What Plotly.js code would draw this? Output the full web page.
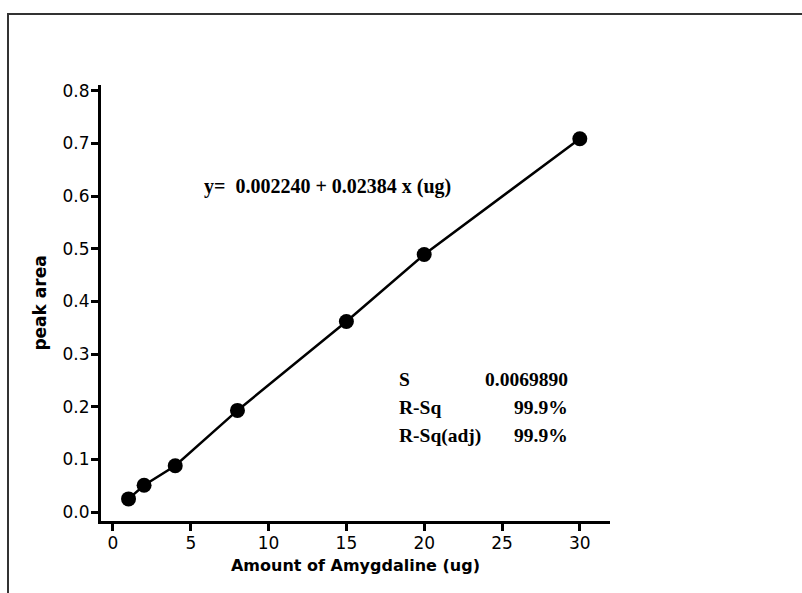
<!DOCTYPE html>
<html>
<head>
<meta charset="utf-8">
<script src="https://cdn.plot.ly/plotly-3.0.1.min.js"></script>
<style>
  html, body { margin: 0; padding: 0; background: #fff; }
  #wrap { position: relative; width: 802px; height: 593px; overflow: hidden; }
  #frame { position: absolute; left: 7px; top: 13px; width: 820px; height: 600px;
           border-left: 2px solid #333; border-top: 2px solid #333; pointer-events: none; }
  #chart { position: absolute; left: 0; top: 0; width: 802px; height: 593px; }
</style>
</head>
<body>
<div id="wrap">
  <div id="chart"></div>
  <div id="frame"></div>
</div>
<script>
// Data
const amount = [1, 2, 4, 8, 15, 20, 30];
const peakArea = [0.025, 0.051, 0.088, 0.193, 0.362, 0.489, 0.709];
const xTicks = [0, 5, 10, 15, 20, 25, 30];
const yTicks = [0.0, 0.1, 0.2, 0.3, 0.4, 0.5, 0.6, 0.7, 0.8];
const yTickLabels = ["0.0", "0.1", "0.2", "0.3", "0.4", "0.5", "0.6", "0.7", "0.8"];
const equationText = "y=\u00a0\u00a00.002240 + 0.02384 x (ug)";
const statNames = ["S", "R-Sq", "R-Sq(adj)"];
const statValues = ["0.0069890", "99.9%", "99.9%"];
const statY = [0.251, 0.198, 0.145];

const trace = {
  x: amount,
  y: peakArea,
  type: 'scatter',
  mode: 'lines+markers',
  line: { color: '#000', width: 2.5 },
  marker: { color: '#000', size: 15 },
  hoverinfo: 'skip',
  showlegend: false
};

const serifEq = { family: 'Liberation Serif, Times New Roman, serif', size: 20, color: '#000' };
const serif = { family: 'Liberation Serif, Times New Roman, serif', size: 19.5, color: '#000' };

const annotations = [
  { x: 5.72, y: 0.619, xref: 'x', yref: 'y', text: '<b>' + equationText + '</b>',
    showarrow: false, xanchor: 'left', yanchor: 'middle', font: serifEq }
];
statNames.forEach((n, i) => {
  annotations.push({ x: 18.25, y: statY[i], xref: 'x', yref: 'y', text: '<b>' + n + '</b>',
    showarrow: false, xanchor: 'left', yanchor: 'middle', font: serif });
  annotations.push({ x: 29.37, y: statY[i], xref: 'x', yref: 'y', text: '<b>' + statValues[i] + '</b>',
    showarrow: false, xanchor: 'right', yanchor: 'middle', font: serif });
});

const tickFont = { family: 'DejaVu Sans, sans-serif', size: 17, color: '#000' };
const xTitleFont = { family: 'DejaVu Sans, sans-serif', size: 16, color: '#000' };
const yTitleFont = { family: 'DejaVu Sans, sans-serif', size: 17, color: '#000' };

const layout = {
  width: 802,
  height: 593,
  margin: { l: 101, r: 192, t: 85, b: 72 },
  paper_bgcolor: '#fff',
  plot_bgcolor: '#fff',
  xaxis: {
    range: [-0.77, 31.94],
    tickvals: xTicks,
    ticktext: xTicks.map(String),
    showgrid: false,
    zeroline: false,
    showline: true,
    linecolor: '#000',
    linewidth: 3,
    ticks: 'outside',
    ticklen: 7,
    tickwidth: 3,
    tickcolor: '#000',
    tickfont: tickFont,
    ticklabelstandoff: -2,
    title: { text: '<b>Amount of Amygdaline (ug)</b>', font: xTitleFont, standoff: 8 }
  },
  yaxis: {
    range: [-0.017, 0.811],
    tickvals: yTicks,
    ticktext: yTickLabels,
    showgrid: false,
    zeroline: false,
    showline: true,
    linecolor: '#000',
    linewidth: 3,
    ticks: 'outside',
    ticklen: 7,
    tickwidth: 3,
    tickcolor: '#000',
    tickfont: tickFont,
    ticklabelstandoff: -2,
    title: { text: '<b>peak area</b>', font: yTitleFont, standoff: 12 }
  },
  annotations: annotations
};

Plotly.newPlot('chart', [trace], layout, { displayModeBar: false, staticPlot: true });
</script>
</body>
</html>
